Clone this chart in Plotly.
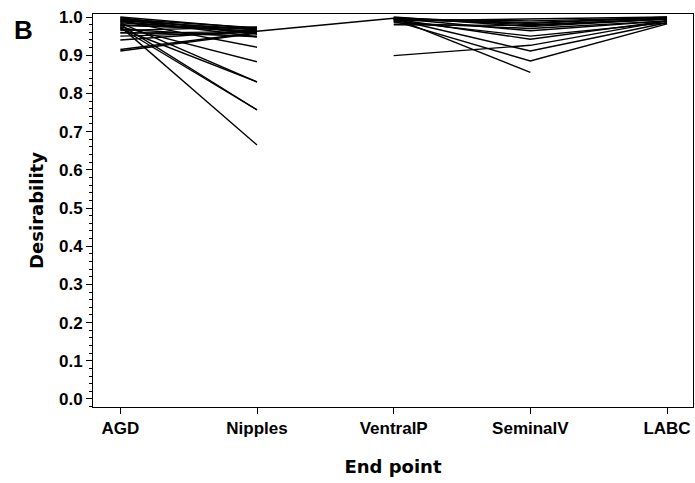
import plotly.graph_objects as go

endpoints = ["AGD", "Nipples", "VentralP", "SeminalV", "LABC"]

# Desirability per compound for each end point (None = not tested)
agd = [0.980, 0.975, 0.972, 0.980, 0.970, 0.985, 0.975, 0.990, 0.995, 0.968,
       0.915, 0.911, 0.940, 0.950, 1.000, 0.995, 0.990, 0.985, 0.960, 0.965,
       0.998, 0.992, 0.978, 0.988, 0.958,
       None, None, None, None, None, None, None, None, None,
       None, None, None, None, None]
nipples = [0.963, 0.665, 0.757, 0.757, 0.830, 0.830, 0.883, 0.921, 0.948, 0.948,
           0.960, 0.958, 0.965, 0.960, 0.970, 0.972, 0.968, 0.962, 0.950, 0.974,
           0.955, 0.966, 0.970, 0.958, 0.962,
           None, None, None, None, None, None, None, None, None,
           None, None, None, None, None]
ventralp = [0.997, None, None, None, None, None, None, None, None, None,
            None, None, None, None, None, None, None, None, None, None,
            None, None, None, None, None,
            0.998, 0.990, 0.995, 0.899, 0.995, 0.990, 0.997, 1.000, 0.998,
            0.995, 0.990, 0.985, 0.980, 0.993]
seminalv = [0.980, None, None, None, None, None, None, None, None, None,
            None, None, None, None, None, None, None, None, None, None,
            None, None, None, None, None,
            0.855, 0.885, 0.911, 0.926, 0.942, 0.950, 0.964, 0.975, 0.983,
            0.990, 0.995, 0.970, 0.978, 0.986]
labc = [0.995, None, None, None, None, None, None, None, None, None,
        None, None, None, None, None, None, None, None, None, None,
        None, None, None, None, None,
        None, 0.982, 0.985, 0.990, 0.990, 0.985, 0.990, 0.995, 1.000,
        0.998, 1.000, 0.990, 0.995, 0.997]

fig = go.Figure()
for i in range(len(agd)):
    vals = [agd[i], nipples[i], ventralp[i], seminalv[i], labc[i]]
    fig.add_trace(go.Scatter(
        x=list(range(len(endpoints))), y=vals,
        mode="lines", connectgaps=False, showlegend=False,
        line=dict(color="black", width=1.4),
        hoverinfo="skip",
    ))

tick_font = dict(family="Liberation Sans, Arial, sans-serif", size=17, color="black")
title_font = dict(family="DejaVu Sans, sans-serif", size=18, color="black")

fig.update_layout(
    width=695, height=483,
    margin=dict(l=93, r=2, t=14, b=76),
    plot_bgcolor="white", paper_bgcolor="white",
    xaxis=dict(
        range=[-0.2, 4.19],
        tickmode="array", tickvals=list(range(len(endpoints))),
        ticktext=["<b>%s</b>" % e for e in endpoints],
        tickfont=tick_font,
        ticks="outside", ticklen=6, tickcolor="black",
        showline=True, linecolor="black", linewidth=1, mirror=True,
        showgrid=False, zeroline=False,
        title=dict(text="<b>End point</b>", font=title_font, standoff=22),
    ),
    yaxis=dict(
        range=[-0.021, 1.008],
        tickmode="linear", tick0=0, dtick=0.1, tickformat=".1f",
        tickprefix="<b>", ticksuffix="</b>",
        tickfont=tick_font,
        ticks="outside", ticklen=6, tickcolor="black",
        minor=dict(dtick=0.02, ticks="outside", ticklen=3, tickcolor="black"),
        showline=True, linecolor="black", linewidth=1, mirror=True,
        showgrid=False, zeroline=False,
        title=dict(text="<b>Desirability</b>", font=title_font, standoff=10),
    ),
    annotations=[dict(
        text="<b>B</b>", xref="paper", yref="paper",
        x=-0.135, y=0.96, xanchor="left", yanchor="middle",
        showarrow=False,
        font=dict(family="Liberation Sans, Arial, sans-serif", size=26, color="black"),
    )],
)

fig.write_html("out.html")
